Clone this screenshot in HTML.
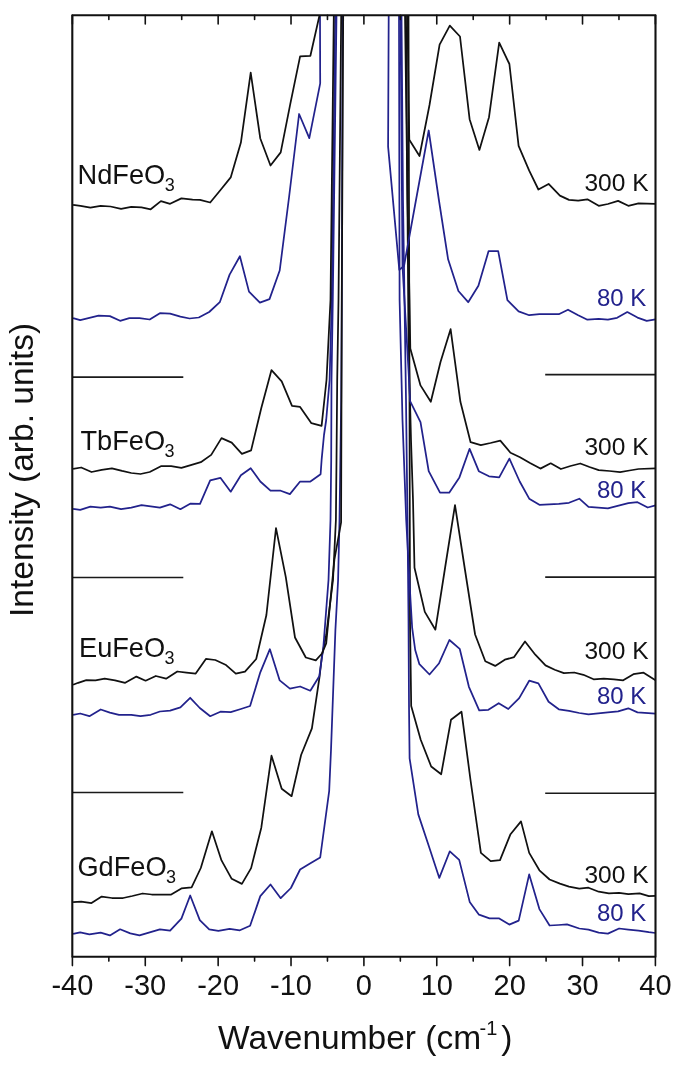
<!DOCTYPE html>
<html><head><meta charset="utf-8"><style>html,body{margin:0;padding:0;background:#fff;}svg{display:block;will-change:transform;}</style></head>
<body><svg width="685" height="1071" viewBox="0 0 685 1071" font-family="'Liberation Sans', sans-serif">
<rect width="685" height="1071" fill="#fff"/>
<defs><clipPath id="c"><rect x="72.3" y="15.2" width="583.2" height="941.6"/></clipPath></defs>
<g stroke="#1a1a1a" fill="none" stroke-linecap="butt">
<line x1="73" y1="377.1" x2="183.3" y2="377.1" stroke-width="1.8"/>
<line x1="545.2" y1="374.6" x2="655" y2="374.6" stroke-width="1.9"/>
<line x1="73" y1="577.5" x2="183.3" y2="577.5" stroke-width="1.4"/>
<line x1="545.2" y1="577.2" x2="655" y2="577.2" stroke-width="1.8"/>
<line x1="73" y1="792.6" x2="183.3" y2="792.6" stroke-width="1.5"/>
<line x1="545.2" y1="793.2" x2="655" y2="793.2" stroke-width="1.6"/>
</g>
<g clip-path="url(#c)" fill="none" stroke-width="1.75" stroke-linejoin="round">
<polyline points="73.1,933.8 80.2,932.3 89.4,934.4 100.7,932.7 109.9,935.4 120.1,929.3 130.3,933.4 139.5,935.4 149.7,932.3 159.9,929.3 170.1,930.7 181.4,918.6 190.2,895.5 199.8,920.1 209.2,929.4 218.4,930.9 229.6,928.8 239.9,930.3 250.1,925.8 260.3,896.1 270.5,884.5 280.7,898.2 290.9,888.0 300.1,869.5 310.0,863.5 320.2,857.5 329.2,790.8 331.0,750.0 335.4,630.0 338.1,580.0 339.5,520.0 341.2,400.0 341.8,300.0 342.6,14.0" stroke="#22228c" />
<polyline points="401.5,14.0 403.0,200.0 406.0,400.0 407.5,520.0 408.5,620.0 409.0,706.0 409.6,758.3 418.3,814.4 428.8,846.0 439.3,877.9 449.8,851.3 459.2,859.9 469.7,901.9 479.0,914.7 489.5,918.3 498.8,918.3 509.3,924.6 518.7,920.6 529.2,874.4 539.4,909.1 549.6,925.5 558.5,925.0 567.0,924.4 579.3,928.5 588.5,929.6 598.7,932.6 607.9,933.6 619.1,928.5 628.3,929.6 638.5,930.6 648.8,932.2 655.5,933.0" stroke="#22228c" />
<polyline points="73.1,902.1 81.2,901.7 91.5,903.1 101.7,896.6 111.9,898.0 123.1,898.0 132.3,896.0 142.6,893.5 151.7,894.5 161.5,894.5 171.2,894.5 181.4,888.4 191.6,887.4 200.8,868.0 211.9,831.3 221.5,860.4 231.7,878.8 241.9,883.9 251.1,868.1 261.3,827.7 271.5,755.7 281.7,788.8 291.6,796.2 301.1,755.0 311.9,728.3 319.5,677.1 322.0,655.2 326.2,635.0 333.0,580.0 335.9,520.0 336.5,460.0 337.2,380.0 338.5,300.0 341.2,14.0" stroke="#111" />
<polyline points="408.5,14.0 409.5,400.0 409.8,520.0 410.0,620.0 411.2,706.0 420.7,739.7 431.2,766.5 441.2,774.2 451.0,719.8 461.5,711.7 470.5,780.0 480.9,852.9 490.7,861.1 500.0,860.1 510.5,834.2 521.0,821.4 529.2,852.9 539.4,870.3 549.6,879.5 559.9,883.6 569.0,886.6 579.3,888.7 588.5,887.7 598.7,891.7 608.9,893.4 619.1,892.8 628.3,894.2 639.6,893.4 648.8,896.2 655.5,895.8" stroke="#111" />
<polyline points="73.1,714.8 80.2,713.5 89.4,716.2 100.7,709.5 109.9,712.7 119.0,714.8 131.3,714.8 140.5,716.2 150.7,714.8 159.9,711.5 170.1,710.7 180.4,707.4 190.2,697.8 199.8,708.0 210.2,716.2 220.4,711.7 230.7,712.1 240.9,709.0 250.1,706.0 260.3,672.3 269.9,649.2 279.7,680.4 289.9,688.6 300.1,686.5 310.3,690.7 319.3,676.2 323.3,647.8 328.5,580.0 330.5,520.0 331.2,460.0 331.5,380.0 332.8,300.0 336.5,14.0" stroke="#22228c" />
<polyline points="399.0,14.0 399.6,300.0 402.5,420.0 406.2,520.0 410.5,600.0 412.2,628.2 415.2,650.0 419.4,664.2 429.5,674.5 439.1,663.2 449.4,640.0 459.7,648.8 468.9,686.8 479.2,710.4 488.4,709.8 498.7,703.2 508.3,709.0 519.2,698.1 529.2,680.7 538.4,683.4 548.6,701.7 558.8,709.3 569.0,710.9 579.3,713.0 588.5,714.4 607.9,712.4 618.1,711.4 628.3,708.3 637.5,712.4 655.5,713.6" stroke="#22228c" />
<polyline points="73.1,684.8 78.2,682.8 86.3,680.1 95.5,680.3 104.7,678.7 115.0,680.3 125.2,682.8 136.4,676.6 145.6,680.7 155.8,676.0 166.1,678.7 177.3,671.5 186.5,672.6 195.7,673.6 205.9,658.9 215.3,660.0 225.5,664.7 235.8,673.7 245.0,671.6 256.2,659.0 266.4,615.0 276.0,528.2 285.8,577.2 295.0,637.5 305.8,657.5 315.8,660.4 322.0,653.5 326.2,643.4 334.4,559.7 341.1,522.4 341.8,300.0 343.2,14.0" stroke="#111" />
<polyline points="406.0,14.0 408.5,340.0 411.0,440.0 413.0,500.0 414.5,567.7 424.8,611.9 435.4,629.7 445.2,567.0 455.0,505.1 465.0,570.0 475.1,634.5 485.3,661.2 495.2,665.9 504.8,659.7 514.1,657.1 525.0,641.5 535.3,654.7 545.5,665.4 554.7,669.7 563.9,673.1 574.2,672.5 583.4,674.8 593.6,679.3 603.8,678.7 614.0,679.3 623.2,680.3 633.4,674.2 643.6,672.7 655.5,680.3" stroke="#111" />
<polyline points="73.1,508.8 80.2,509.8 90.4,506.7 100.7,507.7 109.9,506.7 121.1,509.2 131.3,507.7 141.5,505.1 150.7,506.3 159.9,507.7 170.1,504.3 180.4,509.2 190.6,503.6 200.0,503.9 210.2,480.4 220.4,477.8 230.7,491.7 240.9,475.3 250.7,468.2 260.3,481.5 270.5,490.7 280.7,490.7 289.9,494.1 300.1,481.5 310.4,481.5 320.6,474.3 321.7,458.8 324.0,435.0 326.2,420.0 329.6,380.0 331.8,300.0 335.2,14.0" stroke="#22228c" />
<polyline points="400.5,14.0 402.5,266.0 408.5,370.0 410.1,401.2 420.5,422.2 428.7,471.2 440.0,492.7 449.2,492.7 459.4,477.4 469.6,448.8 478.8,471.2 489.0,476.3 499.2,477.4 509.4,458.6 519.7,481.5 529.2,498.7 539.4,504.8 558.8,503.8 569.0,502.8 579.3,498.7 588.5,506.9 607.9,508.3 628.3,503.2 637.5,502.2 647.7,507.5 655.5,505.4" stroke="#22228c" />
<polyline points="73.1,468.9 81.2,467.5 91.5,472.0 101.7,469.9 111.9,468.3 122.1,470.9 131.3,473.0 140.5,474.0 149.7,472.0 160.9,466.2 171.2,466.2 181.4,467.9 191.6,464.8 200.8,462.2 211.2,454.9 221.5,438.1 231.7,442.6 241.9,453.9 251.1,450.4 261.3,408.0 271.5,370.1 281.7,381.3 292.0,405.8 300.1,406.9 311.4,423.2 321.6,425.9 326.5,380.0 330.5,300.0 333.8,14.0" stroke="#111" />
<polyline points="405.0,14.0 407.5,200.0 409.5,300.0 410.3,348.6 420.5,385.4 430.8,401.8 440.5,362.0 450.6,329.2 460.4,401.8 470.6,442.2 480.8,445.1 490.5,443.0 500.3,440.6 510.5,452.8 520.0,457.2 530.0,463.0 540.4,468.6 550.7,463.3 560.9,469.0 570.5,466.0 580.3,463.5 589.5,467.0 598.7,470.1 609.5,471.0 620.1,472.1 629.5,470.5 638.5,469.0 655.5,468.4" stroke="#111" />
<polyline points="73.1,318.1 80.2,320.1 90.4,317.7 98.6,315.6 109.9,316.1 120.1,320.8 129.3,318.1 139.5,318.1 149.7,319.5 159.9,313.2 170.1,313.6 180.4,316.7 189.6,318.5 198.8,317.5 209.2,312.0 219.8,302.2 229.6,274.6 239.9,256.2 249.0,291.6 259.9,302.6 269.5,299.1 279.7,270.5 289.2,196.0 299.1,114.0 309.3,138.1 320.2,83.3 320.0,14.0" stroke="#22228c" />
<polyline points="388.7,14.0 388.1,146.6 399.3,269.8 404.0,266.0 416.0,200.0 428.7,130.5 438.9,200.0 448.1,259.3 458.4,291.0 468.2,302.2 478.4,285.8 488.6,251.1 498.2,251.1 507.4,300.1 518.6,311.4 529.2,315.2 539.4,314.2 558.8,314.2 568.0,309.7 578.2,315.2 587.4,319.7 598.7,318.9 607.9,319.7 617.1,317.8 627.3,312.1 637.5,317.6 646.7,320.9 655.5,319.3" stroke="#22228c" />
<polyline points="73.1,204.8 80.5,205.8 90.4,207.6 100.7,205.8 110.5,206.5 121.1,208.9 131.3,206.8 141.5,207.4 150.7,209.3 160.9,201.1 170.1,203.8 181.4,198.4 192.6,199.7 200.0,199.8 210.2,202.5 220.5,190.0 230.7,177.4 240.9,142.6 250.7,72.7 260.3,138.5 270.5,165.5 280.7,152.4 290.3,103.8 300.1,56.4 310.4,55.8 319.8,14.0" stroke="#111" />
<polyline points="407.5,14.0 408.5,100.0 409.3,139.7 419.5,156.0 429.5,105.0 439.6,44.6 449.8,25.6 460.0,36.5 469.6,119.2 479.4,149.9 489.0,117.2 499.2,42.6 509.4,64.0 518.6,145.8 529.2,170.7 538.4,189.5 548.6,183.9 559.9,195.6 569.0,199.9 578.2,200.7 587.4,199.3 598.7,205.8 607.9,204.0 618.1,200.9 628.3,205.8 638.5,203.4 655.5,203.8" stroke="#111" />
</g>
<g stroke="#111" stroke-width="1.6" stroke-linecap="round">
<line x1="72.40" y1="15.2" x2="72.40" y2="24.0"/>
<line x1="72.40" y1="956.8" x2="72.40" y2="965.6"/>
<line x1="108.84" y1="15.2" x2="108.84" y2="19.5"/>
<line x1="108.84" y1="956.8" x2="108.84" y2="961.1"/>
<line x1="145.27" y1="15.2" x2="145.27" y2="24.0"/>
<line x1="145.27" y1="956.8" x2="145.27" y2="965.6"/>
<line x1="181.71" y1="15.2" x2="181.71" y2="19.5"/>
<line x1="181.71" y1="956.8" x2="181.71" y2="961.1"/>
<line x1="218.15" y1="15.2" x2="218.15" y2="24.0"/>
<line x1="218.15" y1="956.8" x2="218.15" y2="965.6"/>
<line x1="254.59" y1="15.2" x2="254.59" y2="19.5"/>
<line x1="254.59" y1="956.8" x2="254.59" y2="961.1"/>
<line x1="291.02" y1="15.2" x2="291.02" y2="24.0"/>
<line x1="291.02" y1="956.8" x2="291.02" y2="965.6"/>
<line x1="327.46" y1="15.2" x2="327.46" y2="19.5"/>
<line x1="327.46" y1="956.8" x2="327.46" y2="961.1"/>
<line x1="363.90" y1="15.2" x2="363.90" y2="24.0"/>
<line x1="363.90" y1="956.8" x2="363.90" y2="965.6"/>
<line x1="400.34" y1="15.2" x2="400.34" y2="19.5"/>
<line x1="400.34" y1="956.8" x2="400.34" y2="961.1"/>
<line x1="436.77" y1="15.2" x2="436.77" y2="24.0"/>
<line x1="436.77" y1="956.8" x2="436.77" y2="965.6"/>
<line x1="473.21" y1="15.2" x2="473.21" y2="19.5"/>
<line x1="473.21" y1="956.8" x2="473.21" y2="961.1"/>
<line x1="509.65" y1="15.2" x2="509.65" y2="24.0"/>
<line x1="509.65" y1="956.8" x2="509.65" y2="965.6"/>
<line x1="546.09" y1="15.2" x2="546.09" y2="19.5"/>
<line x1="546.09" y1="956.8" x2="546.09" y2="961.1"/>
<line x1="582.52" y1="15.2" x2="582.52" y2="24.0"/>
<line x1="582.52" y1="956.8" x2="582.52" y2="965.6"/>
<line x1="618.96" y1="15.2" x2="618.96" y2="19.5"/>
<line x1="618.96" y1="956.8" x2="618.96" y2="961.1"/>
<line x1="655.40" y1="15.2" x2="655.40" y2="24.0"/>
<line x1="655.40" y1="956.8" x2="655.40" y2="965.6"/>
</g>
<rect x="72.3" y="15.2" width="583.2" height="941.6" fill="none" stroke="#111" stroke-width="2.1" stroke-linejoin="round"/>
<g font-size="29" fill="#111">
<text x="72.40" y="995" text-anchor="middle">-40</text>
<text x="145.27" y="995" text-anchor="middle">-30</text>
<text x="218.15" y="995" text-anchor="middle">-20</text>
<text x="291.02" y="995" text-anchor="middle">-10</text>
<text x="363.90" y="995" text-anchor="middle">0</text>
<text x="436.77" y="995" text-anchor="middle">10</text>
<text x="509.65" y="995" text-anchor="middle">20</text>
<text x="582.52" y="995" text-anchor="middle">30</text>
<text x="655.40" y="995" text-anchor="middle">40</text>
</g>
<g font-size="27.2" fill="#111">
<text x="77.6" y="184">NdFeO<tspan font-size="18" dx="-0.6" dy="6.8">3</tspan></text>
<text x="80.5" y="450.3">TbFeO<tspan font-size="18" dx="-0.6" dy="7">3</tspan></text>
<text x="79" y="657">EuFeO<tspan font-size="18" dx="-0.6" dy="7">3</tspan></text>
<text x="77.4" y="875.5">GdFeO<tspan font-size="18" dx="-0.6" dy="7">3</tspan></text>
</g>
<g font-size="24.5" text-anchor="end">
<text x="648.5" y="191" fill="#111">300 K</text>
<text x="646.3" y="305.5" fill="#22228c" font-size="24">80 K</text>
<text x="648.5" y="455" fill="#111">300 K</text>
<text x="646.3" y="498.2" fill="#22228c" font-size="24">80 K</text>
<text x="648.5" y="658.8" fill="#111">300 K</text>
<text x="646.3" y="703.8" fill="#22228c" font-size="24">80 K</text>
<text x="648.5" y="882.6" fill="#111">300 K</text>
<text x="646.3" y="921.4" fill="#22228c" font-size="24">80 K</text>
</g>
<text x="218" y="1049" font-size="33.5" fill="#111">Wavenumber (cm<tspan font-size="20" dx="-1.5" dy="-14">-1</tspan><tspan dx="3.8" dy="14">)</tspan></text>
<text transform="translate(33,617) rotate(-90)" font-size="33.5" fill="#111">Intensity (arb. units)</text>
</svg></body></html>
